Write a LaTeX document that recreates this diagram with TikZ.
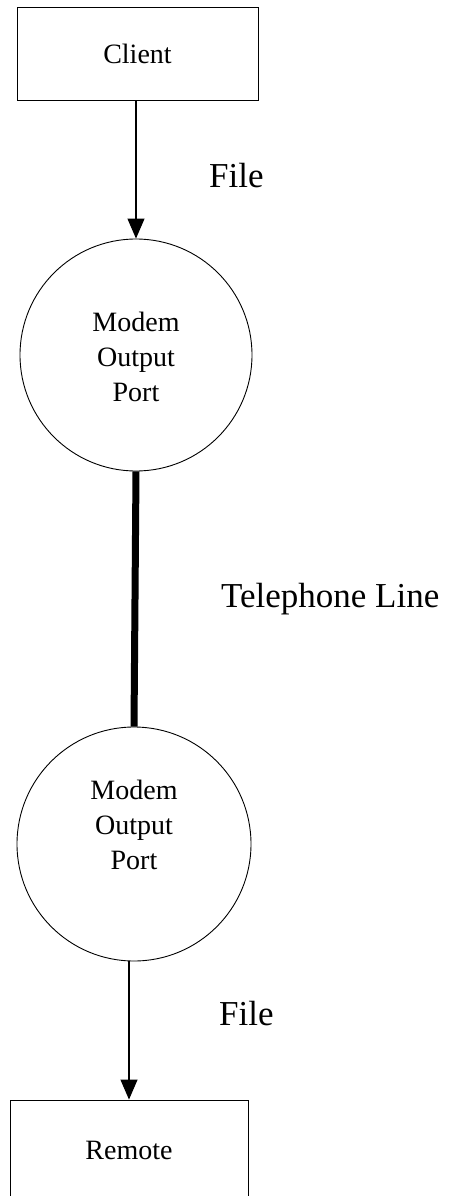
\documentclass[tikz,border=0pt]{standalone}
\usepackage{fontspec}
\setmainfont{Liberation Serif}
\usetikzlibrary{arrows.meta}
\begin{document}
\begin{tikzpicture}[x=1pt,y=-1pt,
  boxnode/.style={draw,line width=0.9pt,rectangle,inner sep=0pt,
    font=\fontsize{28}{34}\selectfont},
  portnode/.style={draw,line width=0.9pt,circle,inner sep=0pt},
  porttext/.style={inner sep=0pt,align=center,font=\fontsize{28}{35}\selectfont},
  flowlabel/.style={inner sep=0pt,anchor=base west,font=\fontsize{35}{40}\selectfont},
  flowarrow/.style={line width=1.2pt,-{Triangle[length=20pt,width=17pt]}},
  phoneline/.style={line width=7pt}]
\clip (0,0) rectangle (459,1196);
\fill[white] (0,0) rectangle (459,1196);

% end points of the transfer
\node[boxnode,minimum width=241pt,minimum height=93pt] (client) at (137.5,53.5) {Client};
\node[boxnode,minimum width=238pt,minimum height=100pt] (remote) at (129,1150) {Remote};

% modem ports
\node[portnode,minimum size=232pt] (p1) at (136,355) {};
\node[porttext] (p1t) at (136,356.5) {Modem\\Output\\Port};
\node[portnode,minimum size=234pt] (p2) at (134,844) {};
\node[porttext] (p2t) at (134,825) {Modem\\Output\\Port};

% connections
\draw[flowarrow] (client.south -| p1.north) -- (p1.north);
\draw[phoneline] (p1.south) -- (p2.north);
\draw[flowarrow] (p2.south -| remote.north) -- (remote.north);

% labels
\node[flowlabel] (f1) at (209,187) {File};
\node[flowlabel] (tl) at (221,607) {Telephone Line};
\node[flowlabel] (f2) at (219,1025) {File};
\end{tikzpicture}
\end{document}
